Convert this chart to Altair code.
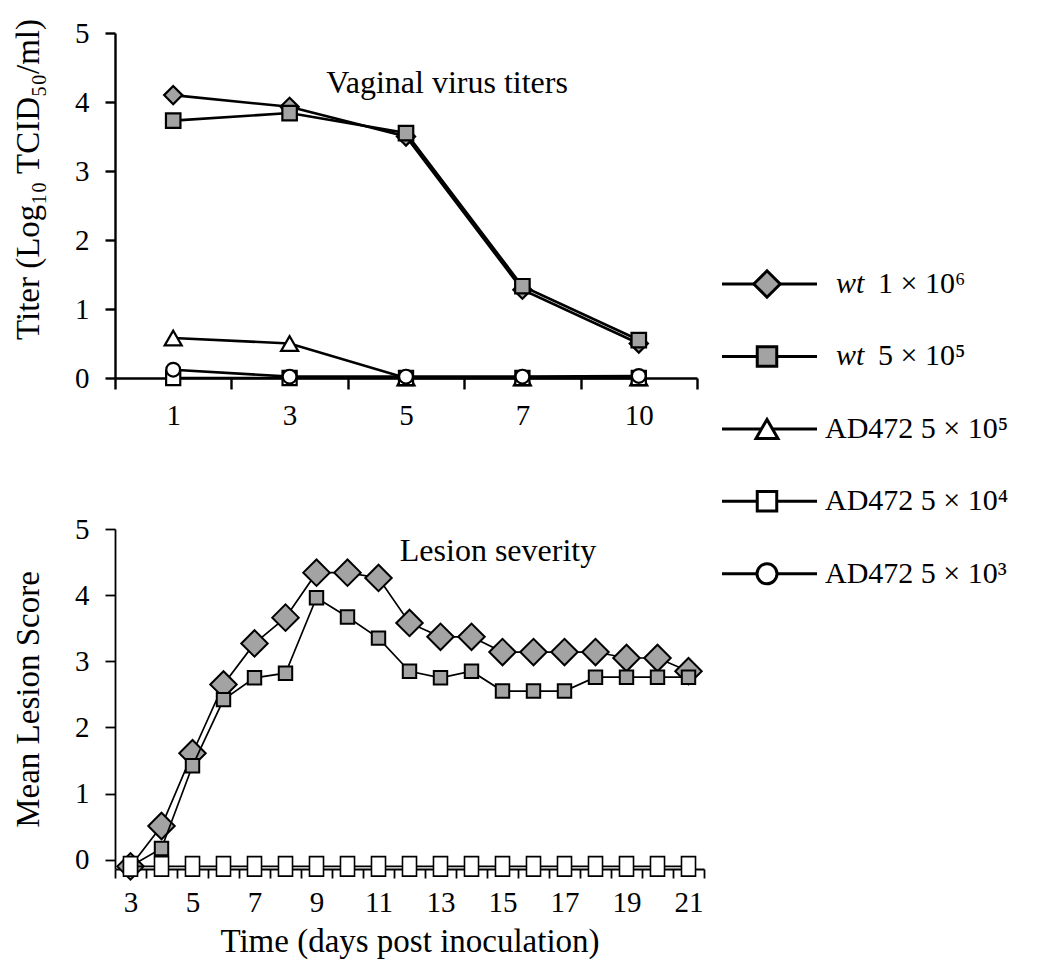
import json
import altair as alt
import pandas as pd

FONT = "Liberation Serif"

# ---------------- data ----------------
series_names = ["wt 1 × 10⁶", "wt 5 × 10⁵", "AD472 5 × 10⁵", "AD472 5 × 10⁴", "AD472 5 × 10³"]
legend_prefix = ["wt", "wt", "", "", ""]
legend_main = ["1 × 10⁶", "5 × 10⁵", "AD472 5 × 10⁵", "AD472 5 × 10⁴", "AD472 5 × 10³"]

# Vaginal virus titers (categorical days)
top_days = ["1", "3", "5", "7", "10"]
top_wt_1e6 = [4.10, 3.93, 3.50, 1.28, 0.50]
top_wt_5e5 = [3.73, 3.84, 3.55, 1.33, 0.55]
top_ad_5e5 = [0.58, 0.50, 0.00, 0.00, 0.00]
top_ad_5e4 = [0.00, 0.00, 0.00, 0.00, 0.00]
top_ad_5e3 = [0.12, 0.02, 0.02, 0.02, 0.03]

# Lesion severity (days 3..21)
bottom_days = [3, 4, 5, 6, 7, 8, 9, 10, 11, 12, 13, 14, 15, 16, 17, 18, 19, 20, 21]
bot_wt_1e6 = [-0.10, 0.51, 1.61, 2.65, 3.27, 3.66, 4.34, 4.34, 4.26, 3.58, 3.37, 3.37,
              3.14, 3.14, 3.14, 3.14, 3.05, 3.05, 2.85]
bot_wt_5e5 = [-0.10, 0.17, 1.42, 2.42, 2.75, 2.82, 3.96, 3.67, 3.35, 2.85, 2.75, 2.85,
              2.55, 2.55, 2.55, 2.76, 2.76, 2.76, 2.76]
bot_ad_5e4 = [-0.10] * 19

y_ticks = [0, 1, 2, 3, 4, 5]

# ---------------- styles ----------------
GREY = "#a3a3a3"
STYLE = {
    "wt 1 × 10⁶": dict(shape="diamond", fill=GREY, legend_size=700),
    "wt 5 × 10⁵": dict(shape="square", fill=GREY, legend_size=380),
    "AD472 5 × 10⁵": dict(shape="triangle-up", fill="white", legend_size=480),
    "AD472 5 × 10⁴": dict(shape="square", fill="white", legend_size=380),
    "AD472 5 × 10³": dict(shape="circle", fill="white", legend_size=400),
}
TALL_RECT = "M-0.72,-1L0.72,-1L0.72,1L-0.72,1Z"

# ---------------- top panel ----------------
top_x_scale = alt.Scale(domain=[-0.5, len(top_days) - 0.5], nice=False, zero=False)
top_y_scale = alt.Scale(domain=[0, 5], nice=False)
top_tick_vals = [i * 0.5 - 0.5 for i in range(2 * len(top_days) + 1)]

top_x_axis = alt.Axis(
    values=top_tick_vals,
    labelExpr=f"datum.value % 1 === 0 ? {json.dumps(top_days)}[datum.value] : ''",
    tickOpacity={"condition": {"test": "datum.value % 1 === 0", "value": 0}, "value": 1},
    tickSize=11, labelPadding=12, labelFlush=False, labelOverlap=False,
    title=None, grid=False, domainWidth=2.4, tickWidth=2.4,
)
top_y_axis = alt.Axis(
    values=y_ticks, format="d", tickSize=10, labelPadding=16,
    title="Titer (Log₁₀ TCID₅₀/ml)", titlePadding=29, titleY=146, grid=False,
    domainWidth=2.4, tickWidth=2.4,
)


def top_layer(name, values, size, sw=2.2):
    df = pd.DataFrame({"idx": list(range(len(top_days))), "v": values})
    st = STYLE[name]
    base = alt.Chart(df).encode(
        x=alt.X("idx:Q", scale=top_x_scale, axis=top_x_axis),
        y=alt.Y("v:Q", scale=top_y_scale, axis=top_y_axis),
    )
    line = base.mark_line(color="black", strokeWidth=2.6)
    pts = base.mark_point(shape=st["shape"], filled=True, fill=st["fill"], stroke="black",
                          strokeWidth=sw, size=size, opacity=1)
    return [line, pts]


top_layers = (
    top_layer("wt 1 × 10⁶", top_wt_1e6, 330)
    + top_layer("wt 5 × 10⁵", top_wt_5e5, 210)
    + top_layer("AD472 5 × 10⁵", top_ad_5e5, 290)
    + top_layer("AD472 5 × 10⁴", top_ad_5e4, 200)
    + top_layer("AD472 5 × 10³", top_ad_5e3, 190)
)
top_note = alt.Chart(pd.DataFrame({"t": ["Vaginal virus titers"]})).mark_text(
    font=FONT, fontSize=32, color="black", align="center", baseline="middle"
).encode(text="t:N", x=alt.value(332), y=alt.value(50))

top = alt.layer(*top_layers, top_note).properties(width=582, height=345)

# ---------------- bottom panel ----------------
bot_x_scale = alt.Scale(domain=[bottom_days[0] - 0.5, bottom_days[-1] + 0.5], nice=False, zero=False)
bot_y_scale = alt.Scale(domain=[-0.14, 5], nice=False, zero=False)
bot_tick_vals = [bottom_days[0] - 0.5 + i * 0.5 for i in range(2 * len(bottom_days) + 1)]

bot_x_axis = alt.Axis(
    values=bot_tick_vals,
    labelExpr="datum.value % 2 === 1 ? datum.value : ''",
    tickOpacity={"condition": {"test": "datum.value % 1 === 0", "value": 0}, "value": 1},
    tickSize=9, labelPadding=10, labelFlush=False, labelOverlap=False,
    title="Time (days post inoculation)", titlePadding=8, grid=False,
    domainWidth=1.8, tickWidth=1.8,
)
bot_y_axis = alt.Axis(
    values=y_ticks, format="d", tickSize=10, labelPadding=16,
    title="Mean Lesion Score", titlePadding=29, grid=False,
    domainWidth=1.8, tickWidth=1.8,
)


def bot_layer(name, values, size, shape=None, sw=2.0):
    df = pd.DataFrame({"day": bottom_days, "v": values})
    st = STYLE[name]
    base = alt.Chart(df).encode(
        x=alt.X("day:Q", scale=bot_x_scale, axis=bot_x_axis),
        y=alt.Y("v:Q", scale=bot_y_scale, axis=bot_y_axis),
    )
    line = base.mark_line(color="black", strokeWidth=1.7)
    pts = base.mark_point(shape=shape or st["shape"], filled=True, fill=st["fill"], stroke="black",
                          strokeWidth=sw, size=size, opacity=1)
    return [line, pts]


bot_layers = (
    bot_layer("wt 1 × 10⁶", bot_wt_1e6, 700)
    + bot_layer("wt 5 × 10⁵", bot_wt_5e5, 180)
    + bot_layer("AD472 5 × 10⁴", bot_ad_5e4, 380, shape=TALL_RECT, sw=1.6)
)
bot_note = alt.Chart(pd.DataFrame({"t": ["Lesion severity"]})).mark_text(
    font=FONT, fontSize=32, color="black", align="center", baseline="middle"
).encode(text="t:N", x=alt.value(383), y=alt.value(22))

bottom = alt.layer(*bot_layers, bot_note).properties(width=589, height=340)

# ---------------- legend ----------------
leg_df = pd.DataFrame({
    "i": list(range(len(series_names))),
    "name": series_names,
    "prefix": legend_prefix,
    "main": legend_main,
    "shape": [STYLE[n]["shape"] for n in series_names],
    "fill": [STYLE[n]["fill"] for n in series_names],
    "size": [STYLE[n]["legend_size"] for n in series_names],
})
leg_y = alt.Y("i:Q", scale=alt.Scale(domain=[-3.465, 4.5], reverse=True, nice=False, zero=False), axis=None)
leg_base = alt.Chart(leg_df).encode(y=leg_y)
leg_line = leg_base.mark_rule(color="black", strokeWidth=3).encode(x=alt.value(10), x2=alt.value(105))
leg_pts = leg_base.mark_point(filled=True, stroke="black", strokeWidth=3, opacity=1).encode(
    x=alt.value(55),
    shape=alt.Shape("shape:N", scale=None),
    fill=alt.Fill("fill:N", scale=None),
    size=alt.Size("size:Q", scale=None),
)
leg_ad = leg_base.transform_filter("datum.prefix === ''").mark_text(
    font=FONT, fontSize=30, color="black", align="left", baseline="middle"
).encode(text="main:N", x=alt.value(113))
leg_wt_prefix = leg_base.transform_filter("datum.prefix !== ''").mark_text(
    font=FONT, fontSize=30, fontStyle="italic", color="black", align="left", baseline="middle"
).encode(text="prefix:N", x=alt.value(124))
leg_wt_main = leg_base.transform_filter("datum.prefix !== ''").mark_text(
    font=FONT, fontSize=30, color="black", align="left", baseline="middle"
).encode(text="main:N", x=alt.value(166))

legend = alt.layer(leg_line, leg_pts, leg_ad, leg_wt_prefix, leg_wt_main).properties(width=300, height=577)

# ---------------- assemble ----------------
left = alt.vconcat(top, bottom, spacing=85)
chart = (
    alt.hconcat(left, legend, spacing=6)
    .properties(padding={"left": 4, "top": 10, "right": 5, "bottom": 5})
    .configure_view(stroke=None)
    .configure_axis(
        labelFont=FONT, titleFont=FONT, labelFontSize=29, titleFontSize=33,
        titleFontWeight="normal", labelColor="black", titleColor="black",
        domainColor="black", tickColor="black",
    )
)

chart.save("out.html", embed_options={"renderer": "svg", "actions": False})
